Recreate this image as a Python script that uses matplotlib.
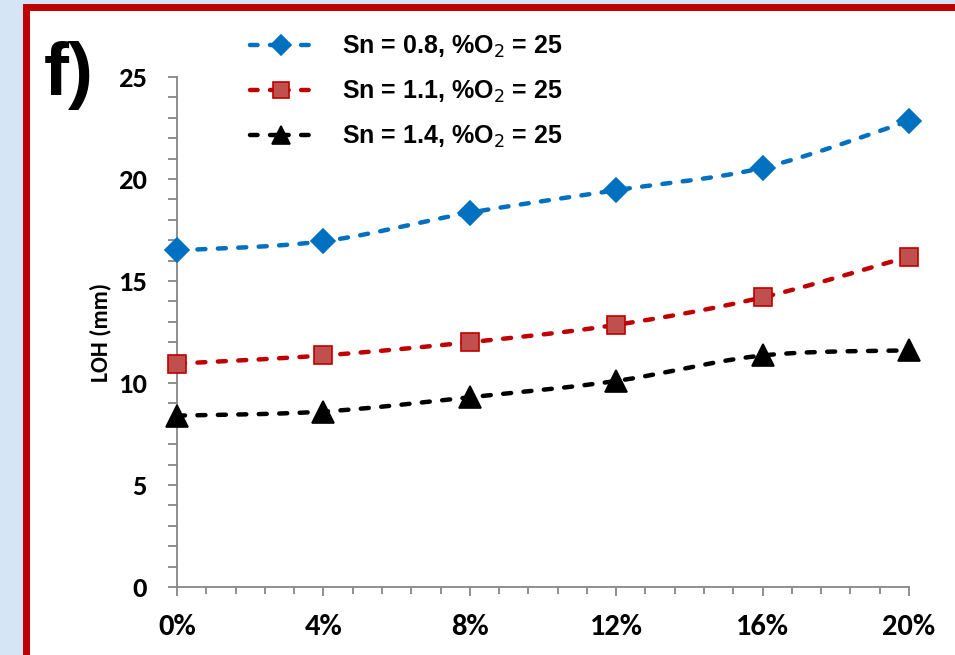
import numpy as np
import matplotlib
matplotlib.use("Agg")
import matplotlib.pyplot as plt
from matplotlib.lines import Line2D
from matplotlib.patches import Rectangle
from matplotlib.ticker import MultipleLocator, FuncFormatter
from matplotlib import font_manager

# ---- data ----
x_percent = [0, 4, 8, 12, 16, 20]
loh_sn08 = [16.5, 16.95, 18.35, 19.45, 20.55, 22.85]
loh_sn11 = [10.95, 11.35, 12.0, 12.85, 14.2, 16.2]
loh_sn14 = [8.4, 8.6, 9.3, 10.1, 11.35, 11.6]
labels = ["Sn = 0.8, %O$_2$ = 25", "Sn = 1.1, %O$_2$ = 25", "Sn = 1.4, %O$_2$ = 25"]
y_ticks = [0, 5, 10, 15, 20, 25]

names = {f.name for f in font_manager.fontManager.ttflist}
tick_font = "Carlito" if "Carlito" in names else "Liberation Sans"
text_font = "Liberation Sans" if "Liberation Sans" in names else "DejaVu Sans"


def smooth(xs, ys, n=30):
    """Excel-like smoothed line (Bezier through the points) for drawing."""
    xs = np.asarray(xs, float); ys = np.asarray(ys, float)
    px, py = [], []
    m = len(xs)
    for i in range(m - 1):
        p0 = np.array([xs[max(i - 1, 0)], ys[max(i - 1, 0)]])
        p1 = np.array([xs[i], ys[i]])
        p2 = np.array([xs[i + 1], ys[i + 1]])
        p3 = np.array([xs[min(i + 2, m - 1)], ys[min(i + 2, m - 1)]])
        c1 = p1 + (p2 - p0) / 6.0
        c2 = p2 - (p3 - p1) / 6.0
        t = np.linspace(0, 1, n)[:, None]
        b = ((1 - t) ** 3) * p1 + 3 * ((1 - t) ** 2) * t * c1 + 3 * (1 - t) * t ** 2 * c2 + t ** 3 * p2
        px.extend(b[:, 0]); py.extend(b[:, 1])
    return np.array(px), np.array(py)


fig = plt.figure(figsize=(9.55, 6.55), dpi=100)
fig.patch.set_facecolor("#d5e5f5")

# white panel with red frame (extends beyond right/bottom edges)
frame = Rectangle((26 / 955, -0.05), 1.1, 1 - 6.5 / 655 + 0.05, transform=fig.transFigure,
                  facecolor="white", edgecolor="#c00000", linewidth=5, zorder=-10)
fig.patches.append(frame)

ax = fig.add_axes([177 / 955, 1 - 587 / 655, (909 - 177) / 955, (587 - 77) / 655])
ax.set_facecolor("none")
ax.set_zorder(5)

series = [
    (loh_sn08, "#0070c0", "D", 12.5, "#0070c0", "#0070c0"),
    (loh_sn11, "#c00000", "s", 13.5, "#c0504d", "#c00000"),
    (loh_sn14, "#000000", "^", 16, "#000000", "#000000"),
]
lw = 3.2
legend_dash = (0, (1.7, 2.8, 4.2, 2.8, 1.7, 10))
handles = []
for (ys, col, mk, ms, fc, ec), lab in zip(series, labels):
    sx, sy = smooth(x_percent, ys)
    ax.plot(sx, sy, color=col, lw=lw, linestyle=(0, (1.8, 2.8)),
            dash_capstyle="round", zorder=2, clip_on=False)
    ax.plot(x_percent, ys, linestyle="none", marker=mk, markersize=ms,
            markerfacecolor=fc, markeredgecolor=ec, markeredgewidth=1.2, zorder=3, clip_on=False)
    handles.append(Line2D([], [], color=col, lw=lw, linestyle=legend_dash,
                          dash_capstyle="round", marker=mk, markersize=ms * 0.85,
                          markerfacecolor=fc, markeredgecolor=ec, markeredgewidth=1.2))

ax.set_xlim(0, 20)
ax.set_ylim(0, 25)
for s in ["top", "right"]:
    ax.spines[s].set_visible(False)
for s in ["left", "bottom"]:
    ax.spines[s].set_color("#868686")
    ax.spines[s].set_linewidth(1.3)

ax.set_xticks(x_percent)
ax.xaxis.set_minor_locator(MultipleLocator(0.8))
ax.set_yticks(y_ticks)
ax.yaxis.set_minor_locator(MultipleLocator(1))
ax.xaxis.set_major_formatter(FuncFormatter(lambda v, p: f"{v:.0f}%"))
ax.tick_params(axis="both", which="both", direction="out", color="#868686", width=1.3)
ax.tick_params(axis="x", which="major", length=6.5, pad=13)
ax.tick_params(axis="x", which="minor", length=5)
ax.tick_params(axis="y", which="major", length=6.5, pad=15)
ax.tick_params(axis="y", which="minor", length=6.5)
for lbl in ax.get_xticklabels():
    lbl.set_fontfamily(tick_font); lbl.set_fontweight("bold"); lbl.set_fontsize(22)
for lbl in ax.get_yticklabels():
    lbl.set_fontfamily(tick_font); lbl.set_fontweight("bold"); lbl.set_fontsize(20.5)

fig.text(100 / 955, 1 - 332 / 655, "LOH (mm)", rotation=90, ha="center", va="center",
         fontsize=17, fontweight="bold", family=tick_font)
fig.text(44 / 955, 1 - 95 / 655, "f)", ha="left", va="baseline", fontsize=54,
         fontweight="bold", family=text_font)

leg = fig.legend(handles=handles, labels=labels, loc="upper left",
                 bbox_to_anchor=(240 / 955, 1 - 24 / 655), frameon=False,
                 prop={"family": text_font, "weight": "bold", "size": 18},
                 handlelength=2.5, handletextpad=1.2, labelspacing=0.74, borderaxespad=0)
leg.set_zorder(6)

fig.savefig("out.png", dpi=100, facecolor=fig.get_facecolor())
